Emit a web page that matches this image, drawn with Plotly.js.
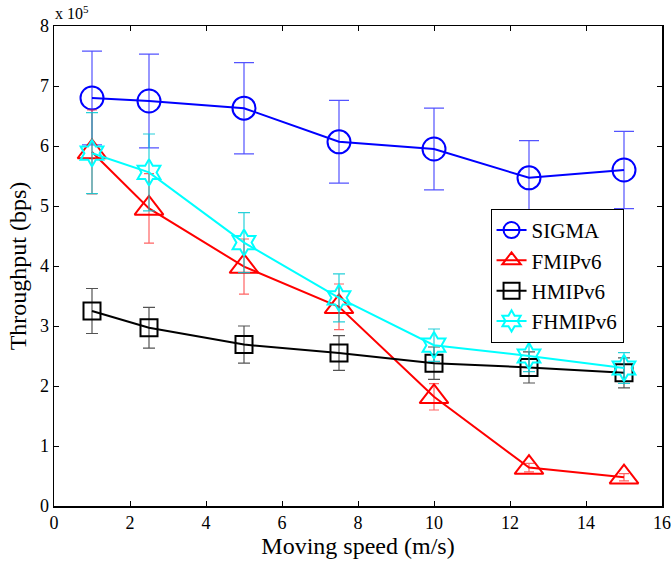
<!DOCTYPE html>
<html>
<head>
<meta charset="utf-8">
<script src="https://cdn.plot.ly/plotly-3.0.1.min.js"></script>
<style>
  body { margin: 0; position: relative; }
  #scale {
    position: absolute; left: 55px; top: 5px; z-index: 5;
    font-family: 'Liberation Serif', serif; font-size: 16px; line-height: 18px; color: #000;
  }
  #scale sup { font-size: 11px; vertical-align: 6px; line-height: 0; }
</style>
</head>
<body>
<div id="scale">x 10<sup>5</sup></div>
<div id="chart"></div>
<script>
// Moving speed (m/s)
const speeds = [1, 2.5, 5, 7.5, 10, 12.5, 15];

// Mean throughput, in units of 10^5 bps
const sigmaMean   = [6.80, 6.75, 6.63, 6.07, 5.95, 5.47, 5.60];
const fmipMean    = [5.90, 4.96, 3.99, 3.32, 1.82, 0.64, 0.48];
const hmipMean    = [3.25, 2.97, 2.69, 2.55, 2.38, 2.31, 2.22];
const fhmipMean   = [5.88, 5.56, 4.39, 3.47, 2.68, 2.50, 2.30];

// Half-width of the error bars, same units
const sigmaErr    = [0.78, 0.78, 0.76, 0.69, 0.68, 0.62, 0.645];
const fmipErr     = [0.70, 0.58, 0.46, 0.38, 0.22, 0.07, 0.06];
const hmipErr     = [0.375, 0.34, 0.31, 0.29, 0.27, 0.26, 0.25];
const fhmipErr    = [0.675, 0.64, 0.50, 0.40, 0.27, 0.26, 0.255];

const seriesNames = ['SIGMA', 'FMIPv6', 'HMIPv6', 'FHMIPv6'];

const xTicks = [0, 2, 4, 6, 8, 10, 12, 14, 16];
const yTicks = [0, 1, 2, 3, 4, 5, 6, 7, 8];

const FAMILY = 'Liberation Serif';

function series(name, mean, err, color, errColor, symbol, size, capW) {
  return {
    type: 'scatter',
    mode: 'lines+markers',
    name: name,
    x: speeds,
    y: mean,
    line: { color: color, width: 2 },
    marker: { symbol: symbol, size: size, color: color, line: { color: color, width: 2 } },
    error_y: { type: 'data', array: err, visible: true, color: errColor, thickness: 1.2, width: capW }
  };
}

const traces = [
  series(seriesNames[0], sigmaMean, sigmaErr, '#0000ff', 'rgba(40,40,255,0.8)', 'circle-open', 23, 10),
  series(seriesNames[1], fmipMean, fmipErr, '#ff0000', 'rgba(255,60,60,0.8)', 'triangle-up-open', 25, 5),
  series(seriesNames[2], hmipMean, hmipErr, '#000000', 'rgba(40,40,40,0.8)', 'square-open', 17, 6),
  series(seriesNames[3], fhmipMean, fhmipErr, '#00ffff', 'rgba(0,200,210,0.85)', 'hexagram-open', 20, 6)
];

const layout = {
  width: 671,
  height: 563,
  margin: { l: 53.5, r: 9.3, t: 26, b: 57 },
  paper_bgcolor: '#ffffff',
  plot_bgcolor: '#ffffff',
  font: { family: FAMILY, size: 18, color: '#000' },
  showlegend: true,
  legend: {
    x: 0.718, y: 0.619, xanchor: 'left', yanchor: 'top',
    bgcolor: '#ffffff', bordercolor: '#000', borderwidth: 1,
    font: { family: FAMILY, size: 21, color: '#000' },
    itemwidth: 30, tracegroupgap: 0
  },
  xaxis: {
    range: [0, 16],
    tickvals: xTicks,
    ticktext: xTicks.map(String),
    ticks: 'inside', ticklen: 5, tickwidth: 1, tickcolor: '#000',
    showline: true, linecolor: '#000', linewidth: 1.5, mirror: 'ticks',
    showgrid: false, zeroline: false,
    tickfont: { family: FAMILY, size: 18, color: '#000' },
    title: { text: 'Moving speed (m/s)', font: { family: FAMILY, size: 24, color: '#000' }, standoff: 2 }
  },
  yaxis: {
    range: [0, 8],
    tickvals: yTicks,
    ticktext: yTicks.map(String),
    ticks: 'inside', ticklen: 5, tickwidth: 1, tickcolor: '#000',
    showline: true, linecolor: '#000', linewidth: 1.5, mirror: 'ticks',
    showgrid: false, zeroline: false,
    tickfont: { family: FAMILY, size: 18, color: '#000' },
    title: { text: 'Throughput (bps)', font: { family: FAMILY, size: 24, color: '#000' }, standoff: 6 }
  }
};

Plotly.newPlot('chart', traces, layout, { staticPlot: true });
</script>
</body>
</html>
